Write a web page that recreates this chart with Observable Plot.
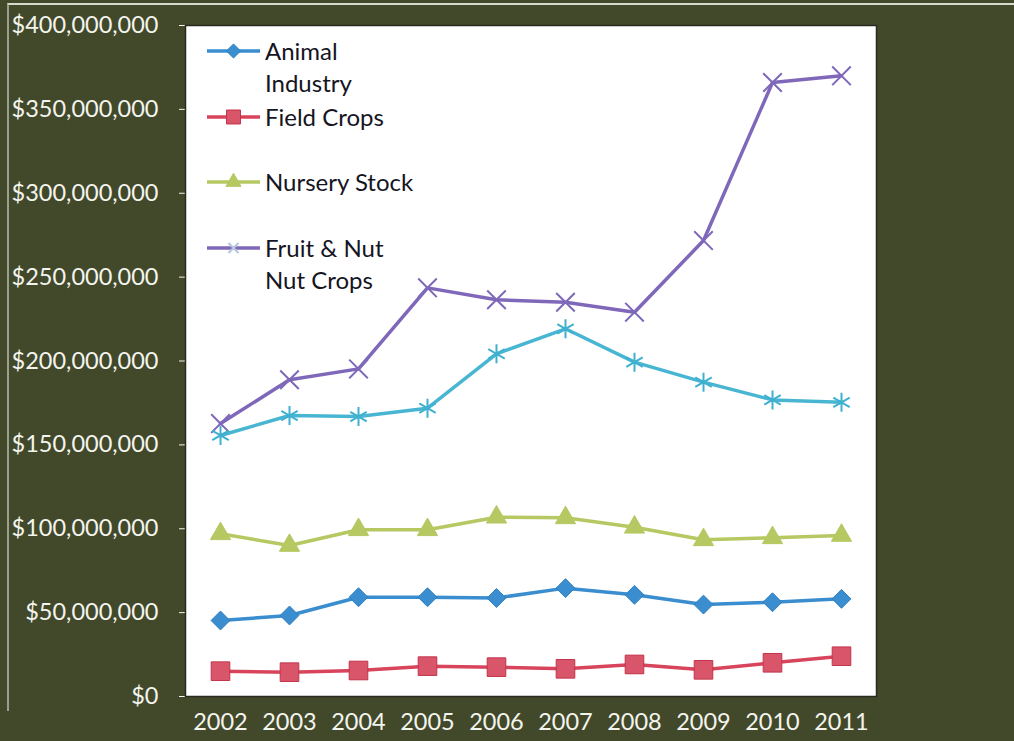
<!DOCTYPE html>
<html>
<head>
<meta charset="utf-8">
<script src="https://cdn.jsdelivr.net/npm/d3@7"></script>
<script src="https://cdn.jsdelivr.net/npm/@observablehq/plot@0.6"></script>
<style>
  html, body { margin: 0; padding: 0; background: #42492a; }
  #wrap { position: relative; width: 1014px; height: 741px; overflow: hidden; background: #42492a; }
  #edge { position: absolute; left: 7px; top: 3px; width: 1010px; height: 706px;
          border-top: 2px solid #d8d8cc; border-left: 2px solid #9c9f8c; pointer-events: none; }
  #chart { position: absolute; left: 0; top: 0; }
  #legend { position: absolute; left: 205px; top: 35px; font-family: Lato, "Open Sans", sans-serif;
            font-size: 24px; color: #15151f; }
  .entry { position: relative; height: 65.5px; }
  .entry svg { position: absolute; left: 0; top: 5px; }
  .entry .lbl { position: absolute; left: 60px; top: 0; line-height: 32px; white-space: nowrap; }
</style>
</head>
<body>
<div id="wrap">
  <div id="chart"></div>
  <div id="legend"></div>
  <div id="edge"></div>
</div>
<script>
// ---- data (values in US dollars) ----
const years = ["2002","2003","2004","2005","2006","2007","2008","2009","2010","2011"];
const animalIndustry = [45.3e6, 48.3e6, 59.2e6, 59.2e6, 58.7e6, 64.6e6, 60.6e6, 54.8e6, 56.2e6, 58.2e6];
const fieldCrops     = [15.1e6, 14.5e6, 15.5e6, 18.1e6, 17.5e6, 16.5e6, 19.1e6, 15.9e6, 20.1e6, 24.0e6];
const nurseryStock   = [97.0e6, 90.0e6, 99.4e6, 99.4e6, 106.9e6, 106.5e6, 100.9e6, 93.4e6, 94.6e6, 96.0e6];
const fruitNut       = [162.7e6, 188.8e6, 195.3e6, 243.6e6, 236.5e6, 235.0e6, 229.1e6, 271.8e6, 366.0e6, 370.0e6];
const fifthSeries    = [155.6e6, 167.5e6, 166.9e6, 171.9e6, 204.3e6, 219.2e6, 199.3e6, 187.4e6, 176.8e6, 175.4e6];
const yTicks = [0, 50e6, 100e6, 150e6, 200e6, 250e6, 300e6, 350e6, 400e6];

const seriesDefs = [
  {key: "animal",  label: ["Animal", "Industry"], values: animalIndustry, color: "#3a8ed0", symbol: "diamond2", r: 8.5, fill: "#3a8ed0", markStroke: "#2f7fc0", sw: 1, legend: true},
  {key: "field",   label: ["Field Crops"],        values: fieldCrops,     color: "#d8445c", symbol: "square",   r: 10.5, fill: "#d9566a", markStroke: "#c3334b", sw: 1, legend: true},
  {key: "nursery", label: ["Nursery Stock"],      values: nurseryStock,   color: "#b5c861", symbol: "triangle", r: 7.5, fill: "#b5c861", markStroke: "#b5c861", sw: 1, legend: true},
  {key: "fruit",   label: ["Fruit & Nut", "Nut Crops"], values: fruitNut, color: "#7f68b9", symbol: "times",    r: 8.5, fill: "none",    markStroke: "#7f68b9", sw: 2, legend: true},
  {key: "fifth",   label: [],                     values: fifthSeries,    color: "#48b6d2", symbol: "asterisk", r: 9,   fill: "none",    markStroke: "#3fb0cf", sw: 2, legend: false}
];

const fmt = d3.format(",");
const marks = [Plot.frame({fill: "white", stroke: "#2a2a22", strokeWidth: 1.5})];
for (const s of seriesDefs) {
  const rows = years.map((year, i) => ({year, value: s.values[i]}));
  marks.push(Plot.line(rows, {x: "year", y: "value", stroke: s.color, strokeWidth: 3.5, strokeLinejoin: "round"}));
  marks.push(Plot.dot(rows, {x: "year", y: "value", symbol: s.symbol, r: s.r, fill: s.fill, stroke: s.markStroke, strokeWidth: s.sw}));
}

const chart = Plot.plot({
  width: 1014,
  height: 741,
  marginLeft: 185,
  marginRight: 138,
  marginTop: 25,
  marginBottom: 45,
  style: {background: "transparent", color: "#f4f4ee", fontFamily: "Lato, 'Open Sans', sans-serif", fontSize: "23.5px", overflow: "visible"},
  x: {type: "point", domain: years, padding: 0.5, label: null, tickSize: 0, tickPadding: 17},
  y: {domain: [0, 400e6], ticks: yTicks, tickFormat: d => "$" + fmt(d), label: null, tickSize: 6, tickPadding: 21},
  marks
});
document.getElementById("chart").appendChild(chart);

// ---- legend (inside the plot area, top-left) ----
const legend = d3.select("#legend");
for (const s of seriesDefs.filter(d => d.legend)) {
  const e = legend.append("div").attr("class", "entry");
  const svg = e.append("svg").attr("width", 58).attr("height", 22);
  svg.append("line").attr("x1", 2).attr("x2", 55).attr("y1", 11).attr("y2", 11)
     .attr("stroke", s.color).attr("stroke-width", 3.5);
  const symMap = {diamond2: d3.symbolDiamond2, square: d3.symbolSquare, triangle: d3.symbolTriangle, times: d3.symbolTimes, asterisk: d3.symbolAsterisk};
  const scale = s.key === "fruit" ? 0.55 : 0.75;
  svg.append("path").attr("transform", "translate(28.5,11)")
     .attr("d", d3.symbol(symMap[s.symbol], Math.PI * (s.r * scale) ** 2)())
     .attr("fill", s.fill).attr("stroke", s.key === "fruit" ? "#b7c6e0" : s.markStroke).attr("stroke-width", s.sw);
  e.append("div").attr("class", "lbl").html(s.label.join("<br>"));
}
</script>
</body>
</html>
